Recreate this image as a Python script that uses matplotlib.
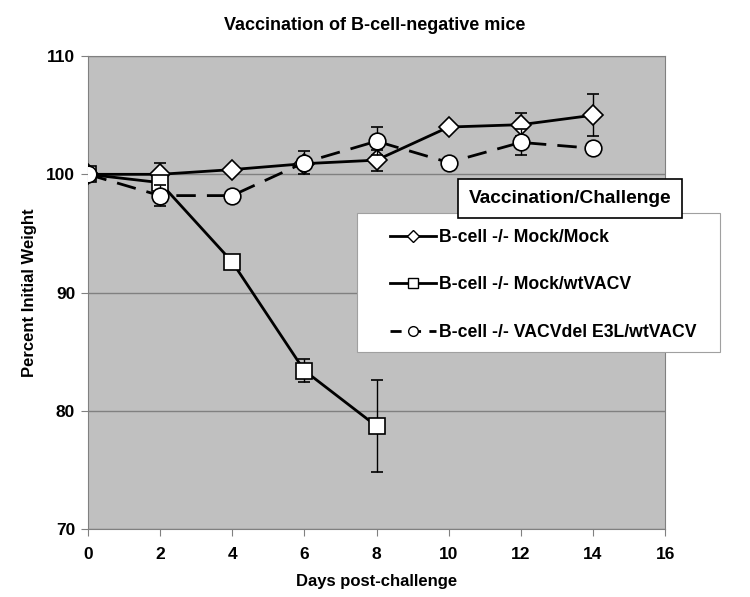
import numpy as np
import matplotlib.pyplot as plt
from matplotlib.lines import Line2D
from matplotlib.patches import Rectangle

plt.rcParams['font.family'] = ['Liberation Sans', 'DejaVu Sans']
plt.rcParams['font.weight'] = 'bold'

# Data
days_mock = [0, 2, 4, 6, 8, 10, 12, 14]
mock_mock = [100, 100, 100.4, 100.9, 101.2, 104.0, 104.2, 105.0]
mock_mock_err = [0, 1.0, 0, 0, 0.9, 0, 1.0, 1.8]

days_wt = [0, 2, 4, 6, 8]
mock_wt = [100, 99.3, 92.6, 83.4, 78.7]
mock_wt_err = [0, 0, 0, 1.0, 3.9]

days_del = [0, 2, 4, 6, 8, 10, 12, 14]
del_wt = [100, 98.2, 98.2, 101.0, 102.8, 101.0, 102.7, 102.2]
del_wt_err = [0, 0.9, 0, 1.0, 1.2, 0, 1.1, 0]

labels = ['B-cell -/- Mock/Mock', 'B-cell -/- Mock/wtVACV',
          'B-cell -/- VACVdel E3L/wtVACV']

W, H = 750, 597
fig = plt.figure(figsize=(7.5, 5.97), dpi=100)
ax = fig.add_axes([0.117, 0.114, 0.770, 0.792])
ax.set_facecolor('#c0c0c0')

# series drawn in order: diamonds, squares, circles on top
ax.errorbar(days_mock, mock_mock, yerr=mock_mock_err, color='black', lw=2,
            marker='D', ms=10, mfc='white', mec='black', mew=1.2,
            ecolor='black', elinewidth=1, capsize=4, capthick=1, zorder=3)
ax.errorbar(days_wt, mock_wt, yerr=mock_wt_err, color='black', lw=2,
            marker='s', ms=11.5, mfc='white', mec='black', mew=1.2,
            ecolor='black', elinewidth=1, capsize=4, capthick=1, zorder=4)
ax.errorbar(days_del, del_wt, yerr=del_wt_err, color='black', lw=2,
            dashes=(7, 4), marker='o', ms=12, mfc='white', mec='black',
            mew=1.2, ecolor='black', elinewidth=1, capsize=4, capthick=1,
            zorder=5)

ax.set_xlim(0, 16)
ax.set_ylim(70, 110)
ax.set_xticks(range(0, 17, 2))
ax.set_yticks([70, 80, 90, 100, 110])
ax.yaxis.grid(True, color='#808080', lw=1)
ax.set_axisbelow(True)
for s in ax.spines.values():
    s.set_color('#808080')
ax.tick_params(axis='both', direction='out', color='#808080', length=5,
               labelsize=12.5, pad=8)
ax.tick_params(axis='y', pad=4)
for lab in ax.get_xticklabels() + ax.get_yticklabels():
    lab.set_fontweight('bold')

ax.set_xlabel('Days post-challenge', fontsize=12, fontweight='bold', labelpad=9)
ax.set_ylabel('Percent Initial Weight', fontsize=12, fontweight='bold', labelpad=7)
fig.text(0.5, 1 - 25 / H, 'Vaccination of B-cell-negative mice', ha='center',
         va='center', fontsize=13, fontweight='bold')

# legend background box (extends past the plot area like the original)
fig.patches.append(Rectangle((357 / W, 1 - 352 / H), (720 - 357) / W,
                             (352 - 213) / H, transform=fig.transFigure,
                             fc='white', ec='#a0a0a0', lw=0.8, zorder=5))

handles = [
    Line2D([], [], color='black', lw=2, marker='D', ms=6, mfc='white', mec='black'),
    Line2D([], [], color='black', lw=2, marker='s', ms=7, mfc='white', mec='black'),
    Line2D([], [], color='black', lw=2, dashes=(4, 3), marker='o', ms=7,
           mfc='white', mec='black'),
]
leg = fig.legend(handles, labels, loc='upper left',
                 bbox_to_anchor=(390 / W, 1 - 229 / H),
                 prop={'size': 12.7, 'weight': 'bold'}, frameon=False,
                 handlelength=2.6, labelspacing=1.72, borderpad=0,
                 borderaxespad=0, handletextpad=0.2)
leg.set_zorder(6)

fig.text(570 / W, 1 - 198.5 / H, 'Vaccination/Challenge', ha='center',
         va='center', fontsize=13.8, fontweight='bold', zorder=10,
         bbox=dict(boxstyle='square,pad=0.58', fc='white', ec='black', lw=1.2))

fig.savefig('out.png', dpi=100)
